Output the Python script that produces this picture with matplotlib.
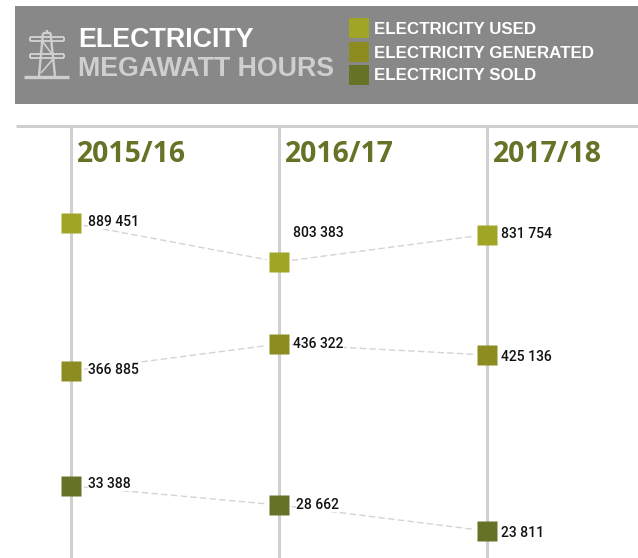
import numpy as np
import matplotlib
matplotlib.use('Agg')
import matplotlib.pyplot as plt
from matplotlib.patches import Rectangle

# Data
years = ['2015/16', '2016/17', '2017/18']
used = [889451, 803383, 831754]
generated = [366885, 436322, 425136]
sold = [33388, 28662, 23811]
series_names = ['ELECTRICITY USED', 'ELECTRICITY GENERATED', 'ELECTRICITY SOLD']

# The original chart is not to scale, so the value axis is piecewise
scale_values = [0, 23811, 28662, 33388, 366885, 425136, 436322, 803383, 831754, 889451, 1300000]
scale_heights = [0, 27, 53, 72, 187, 203, 214, 296, 323.5, 335, 558]

col_used = '#a0a526'
col_generated = '#8c8c20'
col_sold = '#667226'
col_rule = '#d0d0d0'
col_dash = '#d4d4d4'

head_font = 'Liberation Sans'
year_font = 'Open Sans'


def to_height(v):
    return np.interp(v, scale_values, scale_heights)


def to_value(h):
    return np.interp(h, scale_heights, scale_values)


fig = plt.figure(figsize=(6.38, 5.58), dpi=100)

# Header and frame drawn in pixel coordinates
bg = fig.add_axes([0, 0, 1, 1])
bg.set_xlim(0, 638)
bg.set_ylim(558, 0)
bg.axis('off')
bg.add_patch(Rectangle((15, 6), 623, 98, color='#888888', lw=0))
bg.plot([16, 638], [125.5, 125.5], color=col_rule, lw=2.2, solid_capstyle='butt')

# Pylon icon
icon = '#cfcfcf'
pylon = [
    ([24, 69], [76.5, 76.5], 2.4),
    ([39, 43], [76, 33], 1.7),
    ([55, 50.5], [76, 33], 1.7),
    ([43, 50.5], [33, 33], 1.7),
    ([46.7, 46.7], [30, 33], 1.7),
    ([30, 64], [37, 37], 1.4),
    ([30, 64], [41, 41], 1.4),
    ([30, 30], [37, 41], 1.4),
    ([64, 64], [37, 41], 1.4),
    ([30, 64], [54, 54], 1.4),
    ([30, 64], [58, 58], 1.4),
    ([30, 30], [54, 58], 1.4),
    ([64, 64], [54, 58], 1.4),
    ([42, 52], [41, 54], 1.2),
    ([41, 54], [73, 58], 1.2),
]
for xs, ys, w in pylon:
    bg.plot(xs, ys, color=icon, lw=w, solid_capstyle='butt')

bg.text(78, 37, 'ELECTRICITY', color='white', fontsize=19.4, fontweight='bold',
        family=head_font, va='center_baseline')
bg.text(78.5, 66, 'MEGAWATT HOURS', color='#cfcfcf', fontsize=19.3, fontweight='bold',
        family=head_font, va='center_baseline')

# Legend
for name, c, yy in zip(series_names, [col_used, col_generated, col_sold], [28, 52, 75]):
    bg.add_patch(Rectangle((349, yy - 10), 20, 20, color=c, lw=0))
    bg.text(374, yy - 0.5, name, color='white', fontsize=12.2, fontweight='bold',
            family=head_font, va='center_baseline')

# Chart, positions come from the axes scales
ax = fig.add_axes([0, 0, 1, 1])
ax.patch.set_alpha(0)
ax.set_xlim(-71 / 208, (638 - 71) / 208)
ax.set_yscale('function', functions=(to_height, to_value))
ax.set_ylim(0, 1300000)
ax.axis('off')

x = np.arange(len(years))
rule_top = 125
for i in x:
    ax.plot([i, i], [0, to_value(558 - rule_top)], color=col_rule, lw=2.2, solid_capstyle='butt', zorder=1)
    ax.annotate(years[i], (i, 0), xycoords=('data', 'figure pixels'), xytext=(6, 407),
                textcoords='offset pixels', color=col_sold, fontsize=20.4, fontweight='bold',
                family=year_font, va='center_baseline')

# x and y nudges of each label in pixels
label_dx = {
    'used': [17, 14, 14],
    'generated': [17, 14, 14],
    'sold': [17, 17, 14],
}
label_dy = {
    'used': [1, 29, 1],
    'generated': [1, 0, -2],
    'sold': [2, 0, -2],
}

for key, vals, c in [('used', used, col_used), ('generated', generated, col_generated), ('sold', sold, col_sold)]:
    for i in range(len(vals) - 1):
        ax.annotate('', xy=(x[i + 1], vals[i + 1]), xytext=(x[i], vals[i]),
                    arrowprops=dict(arrowstyle='-', color=col_dash, lw=1, linestyle=(0, (4, 3)),
                                    shrinkA=9.5, shrinkB=9.5), zorder=2)
    ax.plot(x, vals, linestyle='none', marker='s', ms=14.4, mfc=c, mec='none', zorder=3)
    for i, v in enumerate(vals):
        label = f'{v:,}'.replace(',', ' ')
        ax.annotate(label, (x[i], v), xytext=(label_dx[key][i], label_dy[key][i]),
                    textcoords='offset pixels', fontsize=10, color='#111111', va='center',
                    family='Roboto', fontweight='medium', zorder=4,
                    bbox=dict(facecolor='white', edgecolor='none', pad=0))

fig.savefig('out.png', dpi=100)
